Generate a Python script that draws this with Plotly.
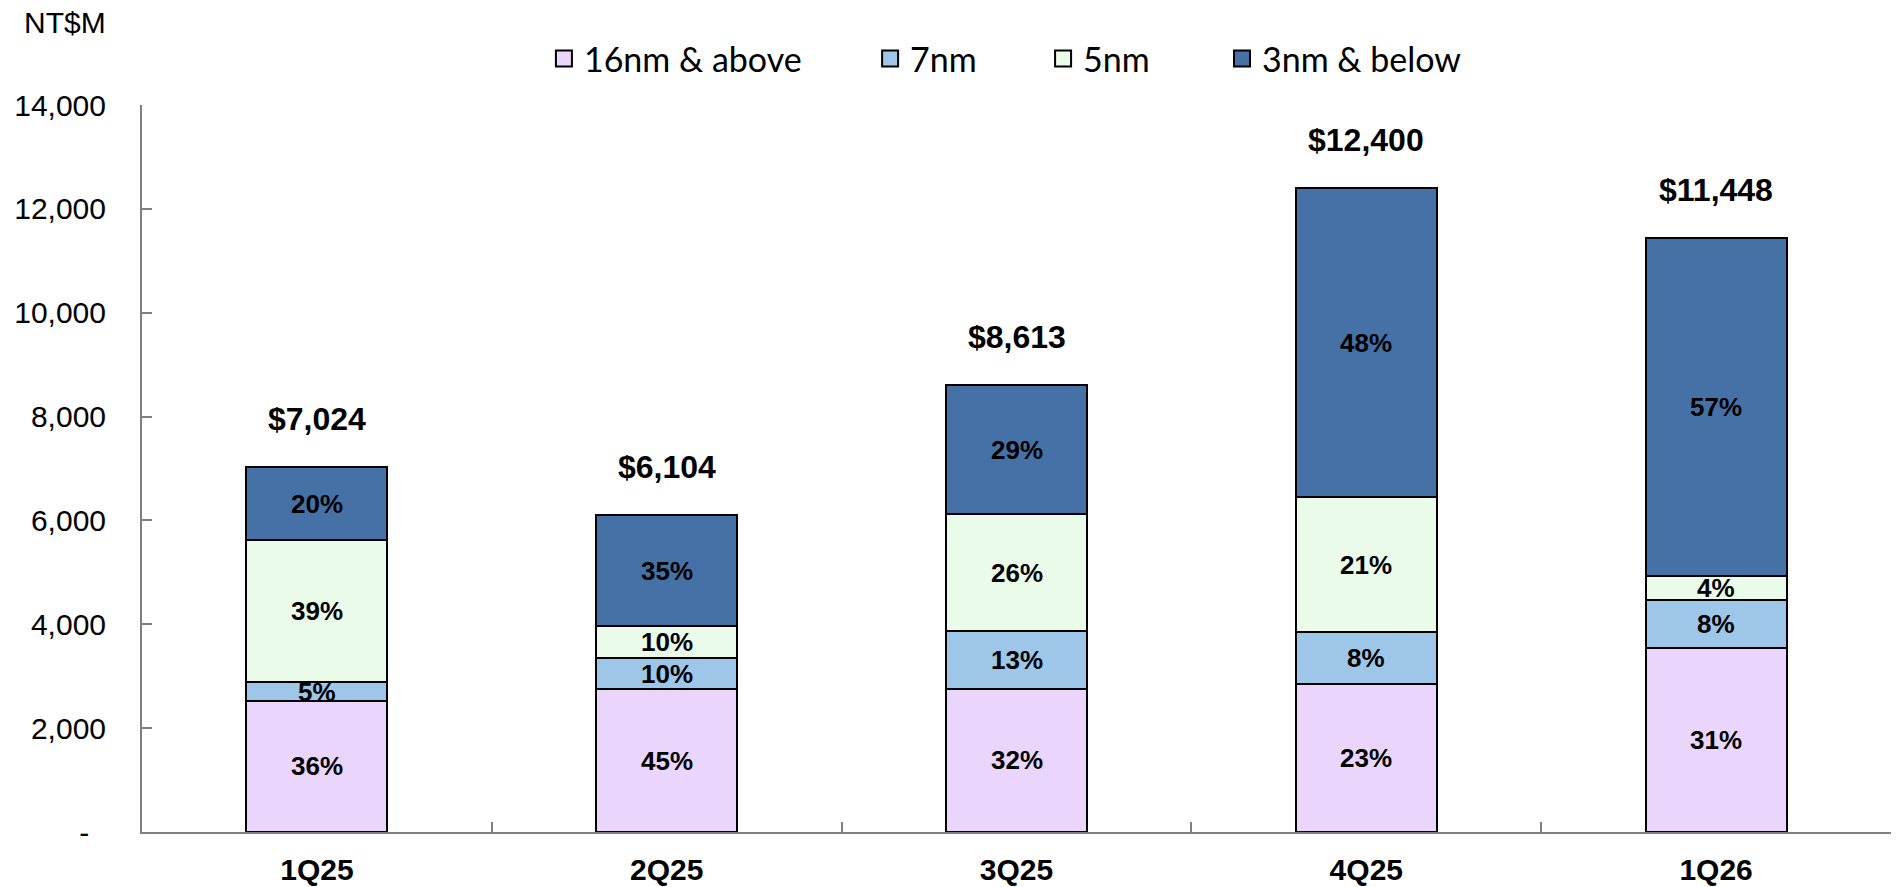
import plotly.graph_objects as go

quarters = ["1Q25", "2Q25", "3Q25", "4Q25", "1Q26"]
totals = [7024, 6104, 8613, 12400, 11448]
series_names = ["16nm & above", "7nm", "5nm", "3nm & below"]
pct_16nm = [36, 45, 32, 23, 31]
pct_7nm = [5, 10, 13, 8, 8]
pct_5nm = [39, 10, 26, 21, 4]
pct_3nm = [20, 35, 29, 48, 57]
val_16nm = [2529, 2747, 2756, 2852, 3549]
val_7nm = [351, 610, 1120, 992, 916]
val_5nm = [2739, 610, 2239, 2604, 458]
val_3nm = [1405, 2137, 2498, 5952, 6525]
y_ticks = [0, 2000, 4000, 6000, 8000, 10000, 12000, 14000]
y_ticktext = ["-\u00a0\u00a0", "2,000", "4,000", "6,000", "8,000", "10,000", "12,000", "14,000"]
colors = ["#EAD6FC", "#9DC6E8", "#EBFBE9", "#4571A6"]

values = [val_16nm, val_7nm, val_5nm, val_3nm]
pcts = [pct_16nm, pct_7nm, pct_5nm, pct_3nm]
legend_ids = ["legend", "legend2", "legend3", "legend4"]

AX = "Liberation Sans, Arial, sans-serif"
LEG = "Lato, Carlito, Calibri, sans-serif"

fig = go.Figure()
for name, vals, col, lg in zip(series_names, values, colors, legend_ids):
    fig.add_trace(go.Bar(
        x=quarters, y=vals, name=name, legend=lg, showlegend=False,
        marker=dict(color=col, line=dict(color="#000000", width=2)),
        hoverinfo="x+y+name",
    ))
# legend entries (square swatches with black border)
for name, col, lg in zip(series_names, colors, legend_ids):
    fig.add_trace(go.Scatter(
        x=[None], y=[None], mode="markers", name=name, legend=lg, showlegend=True,
        marker=dict(symbol="square", size=18, color=col, line=dict(color="#000000", width=2)),
        hoverinfo="skip",
    ))

annotations = []
base = [0] * len(quarters)
for vals, pc in zip(values, pcts):
    for i, q in enumerate(quarters):
        mid = base[i] + vals[i] / 2
        annotations.append(dict(
            x=q, y=mid, xref="x", yref="y", text=f"<b>{pc[i]}%</b>",
            showarrow=False, font=dict(family=AX, size=26, color="#000000"),
            xanchor="center", yanchor="middle"))
        base[i] += vals[i]

for q, t in zip(quarters, totals):
    annotations.append(dict(
        x=q, y=t, xref="x", yref="y", text=f"<b>${t:,}</b>",
        showarrow=False, font=dict(family=AX, size=32, color="#000000"),
        xanchor="center", yanchor="middle", yshift=48))

annotations.append(dict(
    x=-0.0194, y=1.1128, xref="paper", yref="paper", text="NT$M",
    showarrow=False, font=dict(family=AX, size=30, color="#000000"),
    xanchor="right", yanchor="middle"))

leg_common = dict(orientation="h", yanchor="middle", y=1.0633, xanchor="left",
                  font=dict(family=LEG, size=34, color="#000000"),
                  bgcolor="rgba(0,0,0,0)", itemwidth=30, borderwidth=0)
leg_x = [0.2298, 0.4163, 0.5152, 0.6175]

layout_legends = {}
for lg, lx in zip(legend_ids, leg_x):
    layout_legends[lg] = dict(leg_common, x=lx)

fig.update_layout(
    barmode="stack",
    bargap=0.597,
    width=1901, height=887,
    margin=dict(l=142, r=10, t=105, b=55, autoexpand=False),
    plot_bgcolor="#FFFFFF", paper_bgcolor="#FFFFFF",
    annotations=annotations,
    **layout_legends,
)
fig.update_xaxes(
    type="category", showline=True, linecolor="#7F7F7F", linewidth=2,
    ticks="inside", tickson="boundaries", ticklen=10, tickcolor="#7F7F7F", tickwidth=2,
    tickfont=dict(family=AX, size=30, color="#000000"),
    tickvals=quarters, ticktext=[f"<b>{q}</b>" for q in quarters],
    ticklabelstandoff=10, showgrid=False, automargin=False, zeroline=False,
)
fig.update_yaxes(
    range=[0, 14000], tickvals=y_ticks, ticktext=y_ticktext,
    showline=True, linecolor="#7F7F7F", linewidth=2,
    ticks="inside", ticklen=10, tickcolor="#7F7F7F", tickwidth=2,
    tickfont=dict(family=AX, size=30, color="#000000"),
    ticklabelstandoff=28, showgrid=False, zeroline=False, automargin=False,
)

fig.write_html("out.html", config={"displayModeBar": False},
               post_script="document.body.style.margin='0';document.body.style.overflow='hidden';")
